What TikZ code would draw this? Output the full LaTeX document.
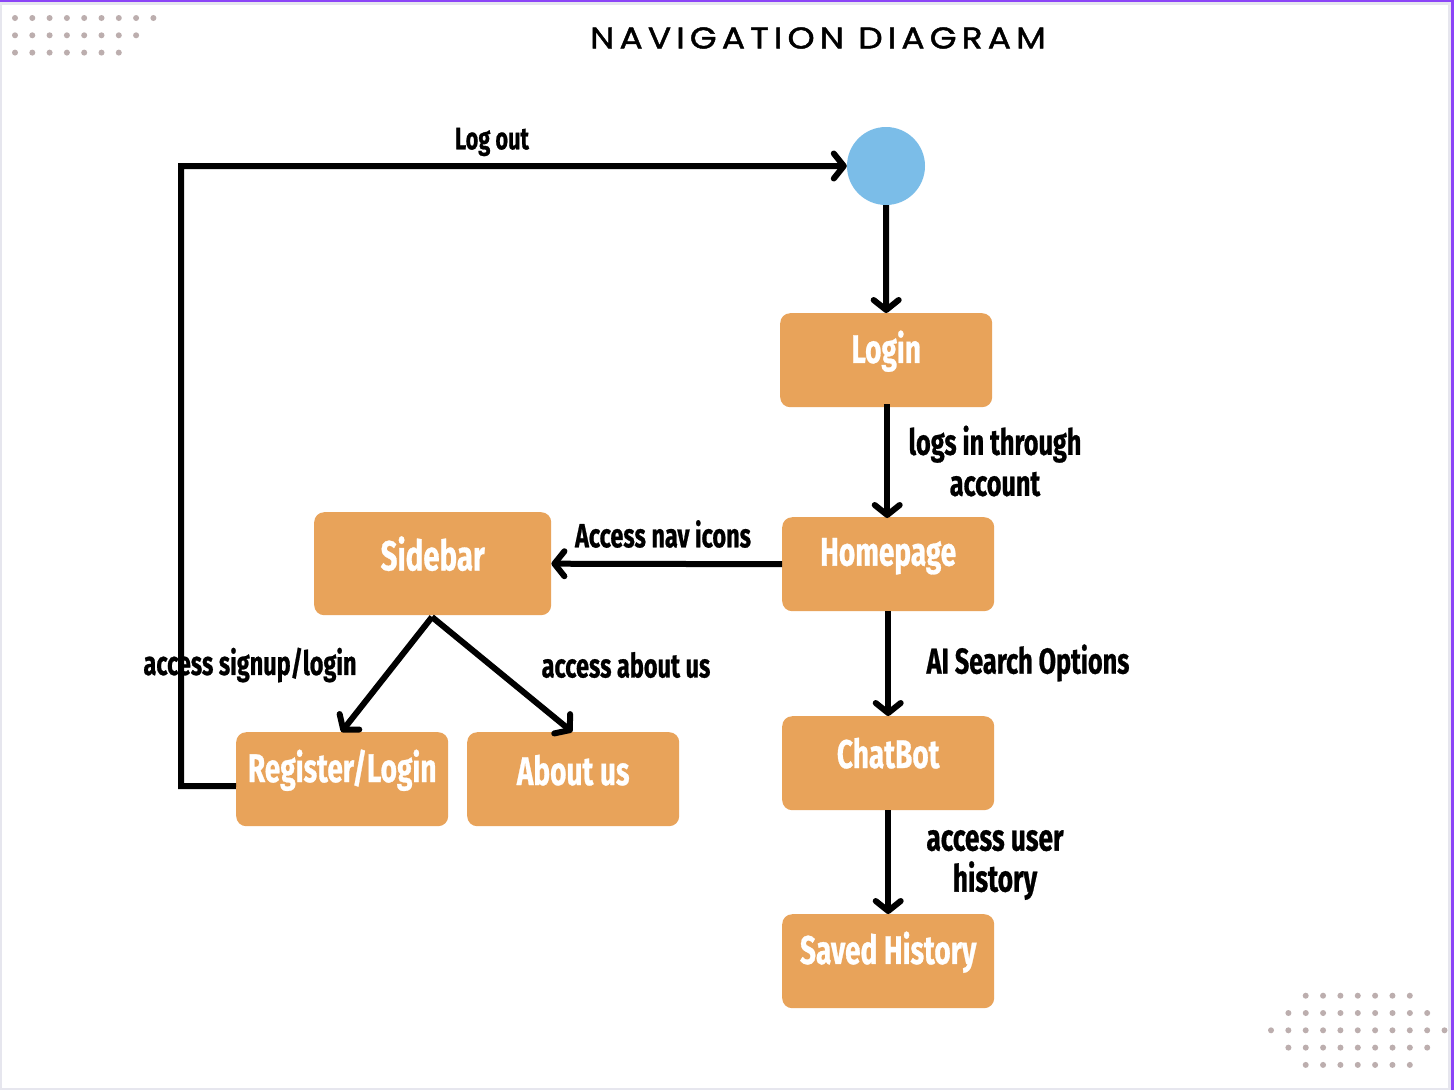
\documentclass[tikz,border=0pt]{standalone}
\usepackage{fontspec}
\usetikzlibrary{arrows.meta,positioning}
\newfontfamily\condfont[FakeStretch=0.7,FakeBold=0.7]{Fira Sans}
\newfontfamily\titlefont[LetterSpace=17,FakeStretch=1.15,FakeBold=1.5]{Poppins}
\definecolor{boxorange}{HTML}{E8A35A}
\definecolor{circblue}{HTML}{7BBDE8}
\definecolor{dotgray}{HTML}{BCAEAE}
\definecolor{framegray}{HTML}{E6E6EE}
\definecolor{framepurple}{HTML}{8B44F7}
\tikzset{
  box/.style={fill=boxorange, rounded corners=10pt, minimum width=212pt, minimum height=94pt, inner sep=0pt, anchor=north west},
  boxtext/.style={text=white, font=\condfont\bfseries\fontsize{40}{44}\selectfont},
  lbl/.style={text=black, font=\condfont\bfseries\fontsize{33.5}{41}\selectfont, align=center, inner sep=0pt},
  lblbig/.style={lbl, font=\condfont\bfseries\fontsize{36}{41}\selectfont},
  lblhuge/.style={lbl, font=\condfont\bfseries\fontsize{37.5}{41}\selectfont},
  conn/.style={line width=6pt, -{Straight Barb[length=10pt,width=25pt,line width=6pt,round]}},
  dot/.style={fill=dotgray, draw=none},
}
\begin{document}
\begin{tikzpicture}[x=1pt,y=-1pt]
% frame
\fill[framegray] (0,0) rectangle (1454,1090);
\fill[white] (2,5) rectangle (1448,1088);
\fill[framepurple] (0,0) rectangle (1454,1.5);
\fill[framepurple] (1451,0) rectangle (1454,1090);
\useasboundingbox (0,0) rectangle (1454,1090);
% dots top-left
\foreach \n [count=\r from 0] in {9,8,7} {
  \foreach \i in {1,...,\n} {
    \fill[dot] ({15+(\i-1)*17.3},{18+\r*17.3}) circle (3pt);
  }
}
% dots bottom-right
\foreach \s/\n [count=\r from 0] in {1305.7/7,1288.4/9,1271/11,1288.4/9,1305.7/7} {
  \foreach \i in {1,...,\n} {
    \fill[dot] ({\s+(\i-1)*17.35},{995.7+\r*17.3}) circle (3pt);
  }
}
% title
\node[font=\titlefont\fontsize{30}{36}\selectfont, inner sep=0pt] (title) at (818,38) {NAVIGATION DIAGRAM};
% start circle
\node[circle, fill=circblue, minimum size=78pt, inner sep=0pt] (start) at (886,166) {};
% boxes
\node[box, label={[boxtext, yshift=9pt]center:Login}] (login) at (780,313) {};
\node[box, label={[boxtext, yshift=8pt]center:Homepage}] (home) at (782,517) {};
\node[box, minimum width=237pt, minimum height=103pt, label={[boxtext, font=\condfont\bfseries\fontsize{42}{44}\selectfont, yshift=10pt]center:Sidebar}] (side) at (314,512) {};
\node[box, label={[boxtext, yshift=9pt]center:Register/Login}] (reg) at (236,732) {};
\node[box, label={[boxtext, yshift=9pt]center:About us}] (about) at (467,732) {};
\node[box, label={[boxtext, yshift=10pt]center:ChatBot}] (chat) at (782,716) {};
\node[box, label={[boxtext, yshift=9pt]center:Saved History}] (saved) at (782,914) {};
% corner coordinates for log out path
\coordinate (c1) at (181,786);
\coordinate (c2) at (181,166);
\coordinate (sidebot) at (432,617);
% connectors
\draw[conn] (start.south) -- (login.north);
\draw[conn] ([xshift=1pt,yshift=3pt]login.south) -- ([xshift=-1pt,yshift=-1pt]home.north);
\draw[conn] (home.west) -- (side.east);
\draw[conn] (home.south) -- (chat.north);
\draw[conn] (chat.south) -- (saved.north);
\draw[conn] (sidebot) -- ([xshift=-107pt]reg.north east);
\draw[conn] (sidebot) -- ([xshift=-1pt]about.north);
\draw[conn] ([yshift=-7pt]reg.west) -- (c1) -- (c2) -- (start.west);
% labels
\node[lbl, font=\condfont\bfseries\fontsize{31}{41}\selectfont] (llogout) at (492,142) {Log out};
\node[lblbig] (llogs) at (995,461) {logs in through\\account};
\node[lbl] (lnav) at (663,534) {Access nav icons};
\node[lblbig] (lai) at (1028,663) {AI Search Options};
\node[lblhuge] (luser) at (995,865) {access user\\history};
\node[lbl] (lsign) at (250,665) {access signup/login};
\node[lbl] (labout) at (626,665) {access about us};
\end{tikzpicture}
\end{document}
